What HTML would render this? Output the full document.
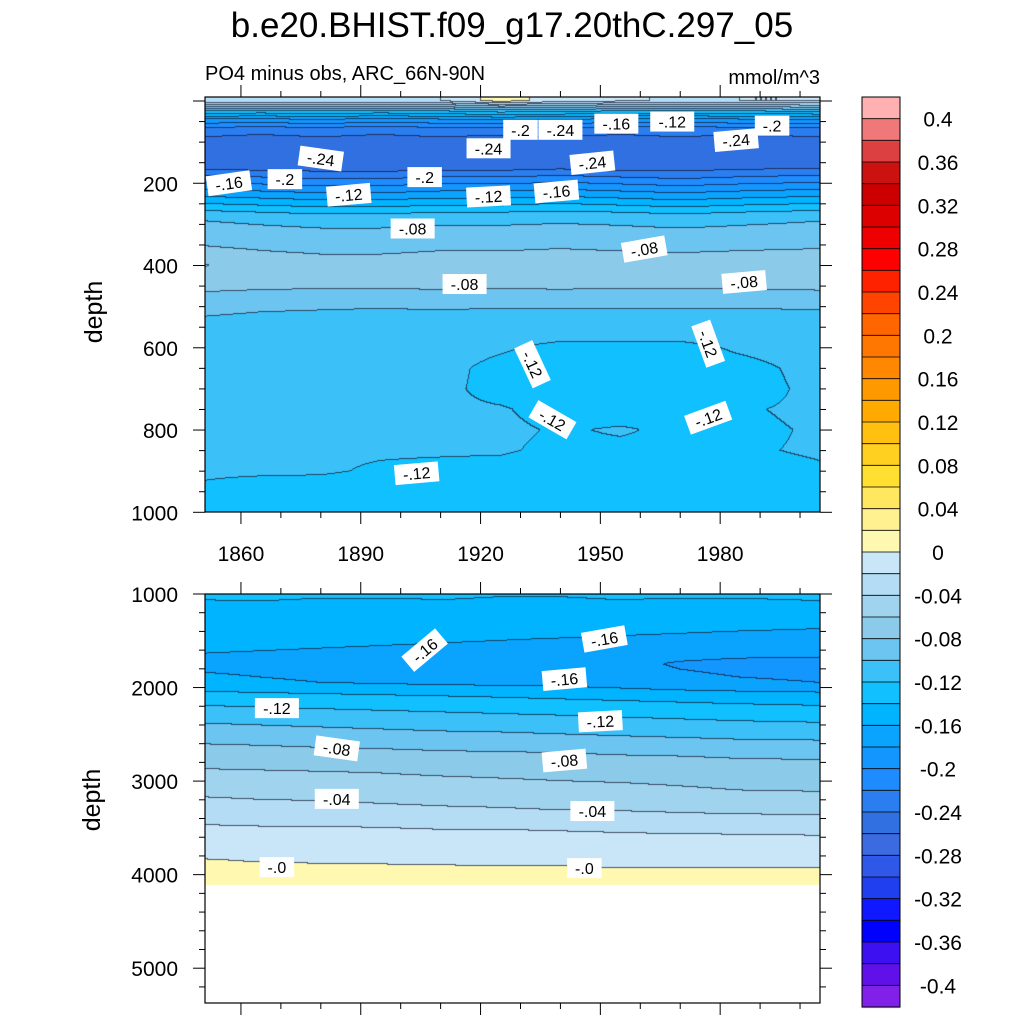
<!DOCTYPE html>
<html><head><meta charset="utf-8"><style>
body{margin:0;background:#fff;width:1024px;height:1024px;overflow:hidden;position:relative;font-family:"Liberation Sans",sans-serif}
canvas,svg{position:absolute;left:0;top:0}
</style></head><body>
<canvas id="cv" width="1024" height="1024"></canvas>
<svg id="sv" width="1024" height="1024" font-family="Liberation Sans, sans-serif"></svg>
<script>
// ---- data ----
const years=[1850,1865,1880,1895,1910,1925,1940,1955,1970,1985,2005];
const topDepths=[0,10,25,45,65,85,100,130,160,190,220,250,280,320,360,400,450,500,550,600,650,700,750,800,850,900,950,1000];
const topValues=[
[-0.02,-0.025,-0.02,-0.025,-0.02,0.01,-0.01,-0.015,-0.025,-0.02,-0.02],
[-0.06,-0.065,-0.06,-0.065,-0.06,-0.045,-0.05,-0.06,-0.065,-0.06,-0.055],
[-0.12,-0.125,-0.12,-0.125,-0.12,-0.11,-0.115,-0.12,-0.125,-0.12,-0.115],
[-0.18,-0.182,-0.178,-0.183,-0.18,-0.175,-0.178,-0.182,-0.183,-0.18,-0.178],
[-0.22,-0.222,-0.22,-0.223,-0.22,-0.218,-0.22,-0.222,-0.223,-0.22,-0.22],
[-0.238,-0.242,-0.238,-0.242,-0.238,-0.241,-0.238,-0.242,-0.238,-0.242,-0.238],
[-0.245,-0.248,-0.246,-0.248,-0.246,-0.248,-0.246,-0.248,-0.246,-0.248,-0.246],
[-0.252,-0.256,-0.254,-0.257,-0.254,-0.256,-0.253,-0.256,-0.255,-0.254,-0.25],
[-0.248,-0.252,-0.253,-0.254,-0.251,-0.252,-0.248,-0.252,-0.252,-0.248,-0.246],
[-0.21,-0.215,-0.22,-0.22,-0.215,-0.215,-0.21,-0.215,-0.22,-0.215,-0.21],
[-0.175,-0.18,-0.185,-0.185,-0.18,-0.18,-0.175,-0.18,-0.185,-0.18,-0.175],
[-0.14,-0.145,-0.15,-0.15,-0.145,-0.145,-0.14,-0.145,-0.15,-0.145,-0.14],
[-0.105,-0.11,-0.115,-0.115,-0.11,-0.11,-0.108,-0.11,-0.115,-0.11,-0.105],
[-0.088,-0.092,-0.095,-0.095,-0.093,-0.093,-0.091,-0.093,-0.095,-0.093,-0.09],
[-0.078,-0.081,-0.083,-0.083,-0.081,-0.081,-0.08,-0.081,-0.082,-0.081,-0.08],
[-0.058,-0.072,-0.074,-0.074,-0.073,-0.074,-0.073,-0.074,-0.074,-0.073,-0.072],
[-0.074,-0.076,-0.077,-0.077,-0.076,-0.077,-0.076,-0.077,-0.077,-0.076,-0.075],
[-0.094,-0.097,-0.098,-0.099,-0.098,-0.099,-0.099,-0.099,-0.099,-0.099,-0.098],
[-0.106,-0.108,-0.109,-0.109,-0.109,-0.11,-0.11,-0.11,-0.11,-0.11,-0.109],
[-0.112,-0.113,-0.114,-0.114,-0.114,-0.118,-0.124,-0.124,-0.124,-0.118,-0.114],
[-0.114,-0.115,-0.116,-0.116,-0.116,-0.124,-0.128,-0.128,-0.128,-0.124,-0.116],
[-0.115,-0.116,-0.117,-0.117,-0.117,-0.124,-0.128,-0.128,-0.128,-0.125,-0.117],
[-0.116,-0.117,-0.118,-0.118,-0.118,-0.119,-0.124,-0.125,-0.124,-0.121,-0.118],
[-0.117,-0.118,-0.118,-0.118,-0.118,-0.118,-0.121,-0.119,-0.122,-0.122,-0.119],
[-0.118,-0.118,-0.119,-0.119,-0.119,-0.119,-0.122,-0.122,-0.122,-0.121,-0.119],
[-0.119,-0.119,-0.119,-0.121,-0.122,-0.123,-0.124,-0.124,-0.123,-0.123,-0.121],
[-0.121,-0.123,-0.124,-0.125,-0.125,-0.125,-0.125,-0.125,-0.125,-0.125,-0.124],
[-0.122,-0.124,-0.125,-0.126,-0.126,-0.126,-0.126,-0.126,-0.126,-0.126,-0.125]];
const botDepths=[1000,1100,1300,1500,1750,1950,2100,2300,2500,2700,2900,3100,3300,3500,3700,3850,3950,4110];
const botValues=[
[-0.136,-0.136,-0.137,-0.137,-0.138,-0.139,-0.139,-0.138,-0.138,-0.138,-0.137],
[-0.142,-0.141,-0.143,-0.143,-0.141,-0.142,-0.142,-0.141,-0.142,-0.142,-0.141],
[-0.15,-0.151,-0.152,-0.152,-0.153,-0.153,-0.153,-0.154,-0.155,-0.156,-0.157],
[-0.155,-0.156,-0.157,-0.158,-0.159,-0.16,-0.161,-0.162,-0.163,-0.164,-0.165],
[-0.164,-0.165,-0.166,-0.167,-0.168,-0.168,-0.169,-0.175,-0.182,-0.185,-0.186],
[-0.155,-0.158,-0.16,-0.162,-0.164,-0.165,-0.166,-0.17,-0.175,-0.178,-0.18],
[-0.131,-0.133,-0.135,-0.137,-0.139,-0.141,-0.143,-0.145,-0.147,-0.149,-0.151],
[-0.108,-0.11,-0.112,-0.114,-0.116,-0.118,-0.12,-0.122,-0.124,-0.126,-0.128],
[-0.089,-0.091,-0.093,-0.095,-0.097,-0.098,-0.1,-0.102,-0.104,-0.106,-0.107],
[-0.072,-0.073,-0.075,-0.076,-0.078,-0.079,-0.08,-0.082,-0.083,-0.085,-0.086],
[-0.058,-0.059,-0.06,-0.061,-0.063,-0.064,-0.065,-0.066,-0.067,-0.069,-0.07],
[-0.045,-0.047,-0.048,-0.05,-0.051,-0.053,-0.055,-0.056,-0.058,-0.06,-0.061],
[-0.031,-0.033,-0.034,-0.036,-0.038,-0.039,-0.041,-0.042,-0.044,-0.046,-0.047],
[-0.018,-0.019,-0.019,-0.02,-0.021,-0.021,-0.022,-0.023,-0.024,-0.024,-0.025],
[-0.009,-0.009,-0.01,-0.01,-0.011,-0.011,-0.011,-0.012,-0.012,-0.013,-0.013],
[0.001,-0.001,-0.002,-0.002,-0.003,-0.003,-0.003,-0.004,-0.004,-0.005,-0.005],
[0.005,0.004,0.004,0.003,0.003,0.002,0.002,0.001,0.001,0.001,0.001],
[0.006,0.006,0.006,0.006,0.006,0.006,0.006,0.006,0.006,0.006,0.006]];
const levels=[];for(let i=0;i<=40;i++)levels.push(+(-0.4+i*0.02).toFixed(2));
const colors=["#8020e8","#6010e8","#3c10f0","#0000ff","#1018ff","#2040f0","#3058e8","#3c6ae0","#3070e0","#2a7ef0","#1e8cff","#1496ff","#0aa4ff","#00b4ff","#10c0ff","#3cc0f8","#6cc4f0","#8ccaea","#a0d4ee","#b4dcf4","#c8e6f8","#fff8b0","#fff090","#ffe860","#ffe030","#ffd020","#ffc010","#ffaa00","#ff9900","#ff8800","#ff7700","#ff6600","#ff4400","#ff2200","#ff0000","#ee0000","#dd0000","#cc0000","#cc1111","#dc4040","#f07878","#ffb0b0"];
const xTicks=[1860,1890,1920,1950,1980];
const topYTicks=[200,400,600,800,1000];
const botYTicks=[1000,2000,3000,4000,5000];
const cbLabels=["0.4","0.36","0.32","0.28","0.24","0.2","0.16","0.12","0.08","0.04","0","-0.04","-0.08","-0.12","-0.16","-0.2","-0.24","-0.28","-0.32","-0.36","-0.4"];
const topLabels=[[-0.2,1930,70,0],[-0.24,1940,70,0],[-0.16,1954,55,0],[-0.12,1968,50,0],[-0.24,1984,95,-5],[-0.2,1993,60,0],[-0.24,1922,115,0],[-0.24,1880,140,8],[-0.24,1948,150,-6],[-0.16,1857,200,-8],[-0.2,1871,190,0],[-0.2,1906,185,0],[-0.12,1887,228,-5],[-0.12,1922,232,-3],[-0.16,1939,220,-5],[-0.08,1903,310,0],[-0.08,1961,360,-10],[-0.08,1916,445,0],[-0.08,1986,440,-5],[-0.12,1933,640,65],[-0.12,1977,590,70],[-0.12,1938,775,30],[-0.12,1977,770,-20],[-0.12,1904,905,-5]];
const botLabels=[[-0.16,1906,1600,-40],[-0.16,1951,1480,-10],[-0.16,1941,1910,-5],[-0.12,1869,2220,0],[-0.12,1950,2360,-3],[-0.08,1884,2650,8],[-0.08,1941,2780,-5],[-0.04,1884,3190,0],[-0.04,1948,3320,0],[0,1869,3920,0],[0,1946,3930,0]];
// ---- axes ----
const X0=205,X1=820,Y0t=97,Y1t=512,Y0b=594,Y1b=1003;
const xs=y=>X0+(y-1851)*(X1-X0)/154;
const yt=d=>101+d*0.4113;
const yb=d=>594+(d-1000)*0.09355;
const dt=y=>(y-101)/0.4113;
const db=y=>1000+(y-594)/0.09355;
const yr=x=>1851+(x-X0)*154/(X1-X0);
function bin(v){if(v<levels[0])return 0;for(let i=levels.length-1;i>=0;i--)if(v>=levels[i])return i+1;return 0;}
function interp(deps,vals,d,y){
 let i=0;while(i<deps.length-2&&d>deps[i+1])i++;
 let td=Math.max(0,Math.min(1,(d-deps[i])/(deps[i+1]-deps[i])));
 let j=0;while(j<years.length-2&&y>years[j+1])j++;
 let ty=Math.max(0,Math.min(1,(y-years[j])/(years[j+1]-years[j])));
 const a=vals[i][j]*(1-ty)+vals[i][j+1]*ty, b=vals[i+1][j]*(1-ty)+vals[i+1][j+1]*ty;
 return a*(1-td)+b*td;
}
const ctx=document.getElementById('cv').getContext('2d');
function field(ya,yb2,toD,deps,vals,maxD){
 const W=X1-X0,H=yb2-ya;const g=[];
 for(let r=0;r<H;r++){g.push([]);const d=toD(ya+r+0.5);for(let c=0;c<W;c++){g[r].push(d>maxD?-1:bin(interp(deps,vals,d,yr(X0+c+0.5))));}}
 for(let r=0;r<H;r++)for(let c=0;c<W;c++){const b=g[r][c];if(b<0)continue;ctx.fillStyle=colors[b];ctx.fillRect(X0+c,ya+r,1,1);}
 ctx.fillStyle="rgba(20,20,40,0.7)";
 for(let r=0;r<H;r++)for(let c=0;c<W;c++){const b=g[r][c];if(b<0)continue;
  if((c+1<W&&g[r][c+1]>=0&&g[r][c+1]!==b)||(r+1<H&&g[r+1][c]>=0&&g[r+1][c]!==b))ctx.fillRect(X0+c,ya+r,1,1);}
}
field(Y0t,Y1t,dt,topDepths,topValues,1e9);
field(Y0b,Y1b,db,botDepths,botValues,4110);
// colorbar
const CX=862,CW=38,CY=97,CH=910,n=colors.length,bh=CH/n;
for(let i=0;i<n;i++){ctx.fillStyle=colors[n-1-i];ctx.fillRect(CX,CY+i*bh,CW,bh+0.5);}
// ---- svg ----
const sv=document.getElementById('sv');const NS="http://www.w3.org/2000/svg";
function el(t,a,p){const e=document.createElementNS(NS,t);for(const k in a)e.setAttribute(k,a[k]);(p||sv).appendChild(e);return e;}
function txt(s,x,y,sz,anchor,name,rot){const e=el('text',{x:x,y:y,'font-size':sz,'text-anchor':anchor||'middle',fill:'#000'});e.textContent=s;
 
 
 if(rot)e.setAttribute('transform',`rotate(${rot} ${x} ${y})`);return e;}
txt("b.e20.BHIST.f09_g17.20thC.297_05",512,37,35,'middle','chart-title');
txt("PO4 minus obs, ARC_66N-90N",205,80,20,'start','subtitle');
txt("mmol/m^3",820,84,20,'end','units-label');
txt("depth",102,312,25,'middle','top-y-axis-title',-90);
txt("depth",100,800,25,'middle','bottom-y-axis-title',-90);
function frame(ya,yb2,name){const r=el('rect',{x:X0,y:ya,width:X1-X0,height:yb2-ya,fill:'none',stroke:'#000','stroke-width':1.2});
 
 }
frame(Y0t,Y1t,'top-plot-frame');frame(Y0b,Y1b,'bottom-plot-frame');
function line(x1,y1,x2,y2,w){el('line',{x1:x1,y1:y1,x2:x2,y2:y2,stroke:'#000','stroke-width':w||1});}
for(let y=1860;y<=2000;y+=10){const x=xs(y),m=xTicks.includes(y),L=m?12:6;
 line(x,Y0t,x,Y0t-L);line(x,Y1t,x,Y1t+L);line(x,Y0b,x,Y0b-L);line(x,Y1b,x,Y1b+L);}
xTicks.forEach(y=>txt(String(y),xs(y),561,21,'middle','x-tick-label'));
for(let d=0;d<=1000;d+=50){const y=yt(d);if(y<Y0t)continue;const L=d%200===0?12:6;line(X0,y,X0-L,y);line(X1,y,X1+L,y);}
topYTicks.forEach(d=>txt(String(d),178,yt(d)+8,21,'end','top-y-tick-label'));
for(let d=1000;d<=5400;d+=200){const y=yb(d);if(y>Y1b)continue;const L=d%1000===0?12:6;line(X0,y,X0-L,y);line(X1,y,X1+L,y);}
botYTicks.forEach(d=>txt(String(d),178,yb(d)+8,21,'end','bottom-y-tick-label'));
// colorbar boxes outlines & labels
for(let i=0;i<=n;i++)line(CX,CY+i*bh,CX+CW,CY+i*bh,0.8);
const cbr=el('rect',{x:CX,y:CY,width:CW,height:CH,fill:'none',stroke:'#000','stroke-width':1});


cbLabels.forEach((s,k)=>txt(s,938,CY+(1+2*k)*bh+8,21,'middle','colorbar-label'));
function clabel(v,yrr,d,rot,yf){const x=xs(yrr),y=yf(d);const s=(v===0?"-.0":(v<0?"-":"")+String(Math.abs(v)).replace(/^0/,""));
 const g=el('g',{transform:`translate(${x},${y}) rotate(${rot})`});
 
 
 const w=s.length*9.5+6;el('rect',{x:-w/2,y:-10,width:w,height:20,fill:'#fff'},g);
 const t=el('text',{x:0,y:6,'font-size':16,'text-anchor':'middle',fill:'#000'},g);t.textContent=s;}
topLabels.forEach(l=>clabel(l[0],l[1],l[2],l[3],yt));
botLabels.forEach(l=>clabel(l[0],l[1],l[2],l[3],yb));
</script>
</body></html>
